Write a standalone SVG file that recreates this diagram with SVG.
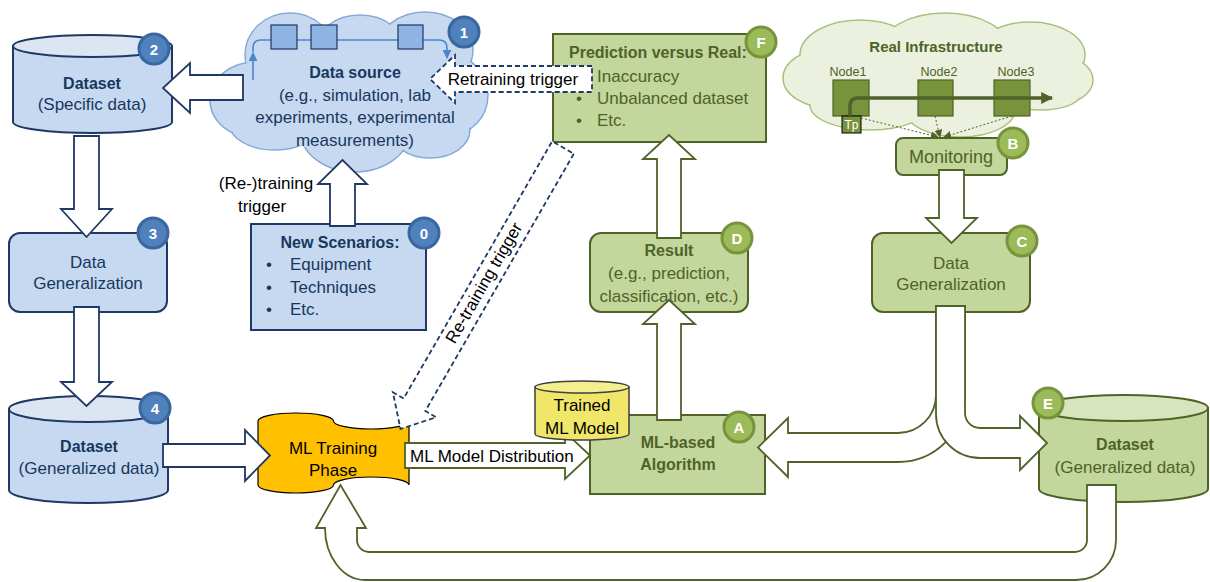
<svg xmlns="http://www.w3.org/2000/svg" width="1210" height="582" viewBox="0 0 1210 582">
<defs>
<style>
text{font-family:'Liberation Sans',Arial,sans-serif;font-size:17px;text-anchor:middle;dominant-baseline:central}
.b{font-weight:bold;font-size:16px}
.s{text-anchor:start}
.tb{fill:#17375E}
.tg{fill:#4F6228}
.bf{fill:#C6D9F1;stroke:#1F3864;stroke-width:2}
.bt{fill:#DCE6F2;stroke:#1F3864;stroke-width:2}
.gf{fill:#C3D69B;stroke:#4F6228;stroke-width:2}
.gt{fill:#D7E4BD;stroke:#4F6228;stroke-width:2}
.ba{fill:#fff;stroke:#1F3864;stroke-width:1.8;stroke-linejoin:miter}
.ga{fill:#fff;stroke:#4F6228;stroke-width:1.8}
.da{fill:#fff;stroke:#1F3864;stroke-width:1.8;stroke-dasharray:5,3}
.bb circle{fill:#4F81BD;stroke:#3A679F;stroke-width:3}
.gb circle{fill:#9BBB59;stroke:#77933C;stroke-width:3}
.bb text,.gb text{fill:#fff;font-weight:bold;font-size:15px}
.cb ellipse{fill:#C6D9F1;stroke:#85A9D8;stroke-width:1.5}
.cbf ellipse{fill:#C6D9F1;stroke:none}
.cg ellipse{fill:#EBF1DE;stroke:#A6C27A;stroke-width:1.5}
.cgf ellipse{fill:#EBF1DE;stroke:none}
.sq{fill:#8DB4E2;stroke:#1F3864;stroke-width:1.2}
.nd{fill:#77933C;stroke:#4F6228;stroke-width:1.2}
</style>
<marker id="mb" viewBox="0 0 10 10" refX="9" refY="5" markerWidth="9" markerHeight="9" markerUnits="userSpaceOnUse" orient="auto"><path d="M0,0 L10,5 L0,10 z" fill="#4A86D0"/></marker>
<marker id="mg" viewBox="0 0 10 10" refX="9" refY="5" markerWidth="15" markerHeight="12" markerUnits="userSpaceOnUse" orient="auto"><path d="M0,0 L10,5 L0,10 z" fill="#4F6228"/></marker>
<marker id="md" viewBox="0 0 10 10" refX="9" refY="5" markerWidth="8" markerHeight="8" markerUnits="userSpaceOnUse" orient="auto"><path d="M0,0 L10,5 L0,10 z" fill="#4F6228"/></marker>
</defs>
<rect width="1210" height="582" fill="#fff"/>

<g id="node-datasource">
<g class="cb">
<ellipse cx="255" cy="100" rx="45" ry="38"/><ellipse cx="290" cy="55" rx="45" ry="42"/><ellipse cx="360" cy="50" rx="45" ry="35"/><ellipse cx="425" cy="50" rx="48" ry="38"/><ellipse cx="450" cy="95" rx="38" ry="40"/><ellipse cx="430" cy="130" rx="40" ry="28"/><ellipse cx="355" cy="130" rx="55" ry="42"/><ellipse cx="275" cy="125" rx="45" ry="25"/>
</g>
<g class="cbf">
<ellipse cx="255" cy="100" rx="44" ry="37"/><ellipse cx="290" cy="55" rx="44" ry="41"/><ellipse cx="360" cy="50" rx="44" ry="34"/><ellipse cx="425" cy="50" rx="47" ry="37"/><ellipse cx="450" cy="95" rx="37" ry="39"/><ellipse cx="430" cy="130" rx="39" ry="27"/><ellipse cx="355" cy="130" rx="54" ry="41"/><ellipse cx="275" cy="125" rx="44" ry="24"/><ellipse cx="350" cy="92" rx="110" ry="60"/>
</g>
<path d="M253,80 L253,53" fill="none" stroke="#4A86D0" stroke-width="1.6" marker-end="url(#mb)"/>
<path d="M253,52 L253,48 Q253,40 261,40 L439,40 Q447,40 447,48 L447,58" fill="none" stroke="#4A86D0" stroke-width="1.6" marker-end="url(#mb)"/>
<rect class="sq" x="271" y="25" width="26" height="24"/>
<rect class="sq" x="311" y="25" width="26" height="24"/>
<rect class="sq" x="398" y="25" width="25" height="24"/>
<text class="b tb" x="355" y="72">Data source</text>
<text class="tb" x="355" y="95">(e.g., simulation, lab</text>
<text class="tb" x="355" y="117">experiments, experimental</text>
<text class="tb" x="355" y="140">measurements)</text>
<g class="bb"><circle cx="464" cy="32" r="15"/><text x="464" y="32">1</text></g>
</g>

<g id="node-dataset2">
<path class="bf" d="M13,46 L13,122 A79.5,11 0 0 0 172,122 L172,46 Z"/>
<ellipse class="bt" cx="92.5" cy="46" rx="79.5" ry="11"/>
<text class="b tb" x="92" y="83">Dataset</text>
<text class="tb" x="92" y="104">(Specific data)</text>
<g class="bb"><circle cx="154" cy="49" r="15"/><text x="154" y="49">2</text></g>
</g>

<g id="node-datagen3">
<rect class="bf" x="9" y="233" width="158" height="79" rx="11"/>
<text class="tb" x="88" y="262">Data</text>
<text class="tb" x="88" y="283">Generalization</text>
<g class="bb"><circle cx="153" cy="233" r="15"/><text x="153" y="233">3</text></g>
</g>

<g id="node-dataset4">
<path class="bf" d="M9,409 L9,490 A79.5,13 0 0 0 168,490 L168,409 Z"/>
<ellipse class="bt" cx="88.5" cy="409" rx="79.5" ry="13"/>
<text class="b tb" x="89" y="446">Dataset</text>
<text class="tb" x="89" y="468">(Generalized data)</text>
<g class="bb"><circle cx="155" cy="408" r="15"/><text x="155" y="408">4</text></g>
</g>

<g id="node-newscenarios">
<rect class="bf" x="251" y="224" width="175" height="106"/>
<text class="b tb" x="340" y="242">New Scenarios:</text>
<text class="tb" x="269" y="264">•</text><text class="tb s" x="290" y="264">Equipment</text>
<text class="tb" x="269" y="287">•</text><text class="tb s" x="290" y="287">Techniques</text>
<text class="tb" x="269" y="309">•</text><text class="tb s" x="290" y="309">Etc.</text>
<g class="bb"><circle cx="424" cy="233" r="15"/><text x="424" y="233">0</text></g>
</g>

<g id="node-mltraining">
<path d="M258,421 A37.75,8 0 0 1 333.5,421 A37.75,8 0 0 0 409,421 L409,485 A37.75,8 0 0 0 333.5,485 A37.75,8 0 0 1 258,485 Z" fill="#FFC000" stroke="#000" stroke-width="1.2"/>
<text x="333" y="448">ML Training</text>
<text x="333" y="470">Phase</text>
</g>

<g id="node-prediction">
<rect class="gf" x="553" y="34" width="213" height="108"/>
<text class="b tg s" x="569" y="52">Prediction versus Real:</text>
<text class="tg" x="579" y="76">•</text><text class="tg s" x="597" y="76">Inaccuracy</text>
<text class="tg" x="579" y="98">•</text><text class="tg s" x="597" y="98">Unbalanced dataset</text>
<text class="tg" x="579" y="120">•</text><text class="tg s" x="597" y="120">Etc.</text>
<g class="gb"><circle cx="761" cy="42" r="15"/><text x="761" y="42">F</text></g>
</g>

<g id="node-realinfra">
<g class="cg">
<ellipse cx="830" cy="78" rx="47" ry="30"/><ellipse cx="860" cy="55" rx="60" ry="35"/><ellipse cx="945" cy="50" rx="65" ry="37"/><ellipse cx="1030" cy="55" rx="55" ry="33"/><ellipse cx="1055" cy="80" rx="38" ry="25"/><ellipse cx="1040" cy="95" rx="40" ry="15"/><ellipse cx="960" cy="110" rx="55" ry="27"/><ellipse cx="870" cy="105" rx="60" ry="25"/>
</g>
<g class="cgf">
<ellipse cx="830" cy="78" rx="46" ry="29"/><ellipse cx="860" cy="55" rx="59" ry="34"/><ellipse cx="945" cy="50" rx="64" ry="36"/><ellipse cx="1030" cy="55" rx="54" ry="32"/><ellipse cx="1055" cy="80" rx="37" ry="24"/><ellipse cx="1040" cy="95" rx="39" ry="14"/><ellipse cx="960" cy="110" rx="54" ry="26"/><ellipse cx="870" cy="105" rx="59" ry="24"/><ellipse cx="940" cy="80" rx="130" ry="40"/>
</g>
<text class="b tg" x="936" y="46" style="font-size:15px">Real Infrastructure</text>
<text class="tg" x="848" y="72" style="font-size:12.5px">Node1</text>
<text class="tg" x="939" y="72" style="font-size:12.5px">Node2</text>
<text class="tg" x="1016" y="72" style="font-size:12.5px">Node3</text>
<rect class="nd" x="833" y="80" width="36" height="36"/>
<rect class="nd" x="918" y="80" width="35" height="36"/>
<rect class="nd" x="994" y="80" width="36" height="36"/>
<rect x="842" y="116" width="19" height="17" fill="#77933C" stroke="#000" stroke-width="1"/>
<text x="851.5" y="125" fill="#fff" style="font-size:12px">Tp</text>
<path d="M850,116 L850,106 Q850,98 858,98 L1052,98" fill="none" stroke="#4F6228" stroke-width="3.5" marker-end="url(#mg)"/>
<g fill="none" stroke="#4F6228" stroke-width="1" stroke-dasharray="2,2">
<path d="M861,118 L938,137" marker-end="url(#md)"/>
<path d="M935,116 L940,137" marker-end="url(#md)"/>
<path d="M1012,116 L944,137" marker-end="url(#md)"/>
</g>
</g>

<g id="node-monitoring">
<rect class="gf" x="896" y="138" width="111" height="37" rx="7"/>
<text class="tg" x="951" y="157" style="font-size:18px">Monitoring</text>
<g class="gb"><circle cx="1013" cy="143" r="15"/><text x="1013" y="143">B</text></g>
</g>

<g id="node-result">
<rect class="gf" x="590" y="233" width="158" height="79" rx="11"/>
<text class="b tg" x="669" y="250">Result</text>
<text class="tg" x="669" y="273">(e.g., prediction,</text>
<text class="tg" x="669" y="296">classification, etc.)</text>
<g class="gb"><circle cx="737" cy="238" r="15"/><text x="737" y="238">D</text></g>
</g>

<g id="node-datagenC">
<rect class="gf" x="872" y="233" width="158" height="79" rx="11"/>
<text class="tg" x="951" y="263">Data</text>
<text class="tg" x="951" y="284">Generalization</text>
<g class="gb"><circle cx="1022" cy="241" r="15"/><text x="1022" y="241">C</text></g>
</g>

<g id="node-mlalgorithm">
<rect class="gf" x="590" y="415" width="175" height="79"/>
<text class="b tg" x="678" y="442">ML-based</text>
<text class="b tg" x="678" y="464">Algorithm</text>
<g class="gb"><circle cx="739" cy="427" r="15"/><text x="739" y="427">A</text></g>
</g>

<g id="node-datasetE">
<path class="gf" d="M1039,408 L1039,489 A84.5,13 0 0 0 1208,489 L1208,408 Z"/>
<ellipse class="gt" cx="1123.5" cy="408" rx="84.5" ry="13"/>
<text class="b tg" x="1125" y="444">Dataset</text>
<text class="tg" x="1125" y="467">(Generalized data)</text>
</g>

<g id="connectors">
<path class="ba" d="M243,75 L190,75 L190,63 L163,88 L190,113 L190,100 L243,100 Z"/>
<path class="ba" d="M74,136 L99,136 L99,209 L112,209 L86.5,237 L61,209 L74,209 Z"/>
<path class="ba" d="M74,307 L99,307 L99,382 L112,382 L86.5,406 L61,382 L74,382 Z"/>
<path class="ba" d="M163,444 L245,444 L245,430 L270,455.5 L245,481 L245,467 L163,467 Z"/>
<path class="ba" d="M330,226 L330,184 L318,184 L342.5,160 L367,184 L355,184 L355,226 Z"/>
<text x="266" y="183">(Re-)training</text>
<text x="262" y="206">trigger</text>
<path class="da" d="M592,66 L455,66 L455,55 L430,79 L455,103 L455,92 L592,92 Z"/>
<text x="513" y="79">Retraining trigger</text>
<path class="da" transform="translate(563,147.5) rotate(120)" d="M0,-12.5 L297,-12.5 L297,-25 L325,0 L297,25 L297,12.5 L0,12.5 Z"/>
<text transform="translate(484,283) rotate(-60)" x="0" y="0">Re-training trigger</text>
<path class="ga" d="M657,238 L657,159 L643,159 L669,135 L695,159 L681,159 L681,238 Z"/>
<path class="ga" d="M657,420 L657,324 L643,324 L669,300 L695,324 L681,324 L681,420 Z"/>
<path class="ga" d="M939,170 L964,170 L964,218 L977,218 L951.5,243 L926,218 L939,218 Z"/>
<path class="ga" d="M405,443 L565,443 L565,432 L590,455.5 L565,479 L565,468 L405,468 Z"/>
<text class="s" x="410" y="456">ML Model Distribution</text>
<path class="ga" d="M936,306 L965,306 L965,395 A67,67 0 0 1 898,462 L788,462 L788,477 L758,447.5 L788,418 L788,433 L898,433 A38,38 0 0 0 936,395 Z"/>
<path class="ga" d="M936,306 L965,306 L965,413 A15,15 0 0 0 980,428 L1020,428 L1020,416 L1047,443 L1020,470 L1020,458 L980,458 A44,44 0 0 1 936,414 Z"/>
<path class="ga" d="M1087,485 L1116,485 L1116,540 A40,40 0 0 1 1076,580 L365,580 A40,52 0 0 1 325,528 L316,528 L340.5,485 L366,528 L357,528 L357,540 A12,12 0 0 0 369,552 L1075,552 A12,12 0 0 0 1087,540 Z"/>
</g>

<g id="node-badgeE" class="gb"><circle cx="1048" cy="403" r="15"/><text x="1048" y="403">E</text></g>

<g id="node-trainedmodel">
<path d="M535,387 L535,434 A47,6 0 0 0 629,434 L629,387 Z" fill="#F0E66A" stroke="#3F3F3F" stroke-width="1.5"/>
<ellipse cx="582" cy="387" rx="47" ry="6" fill="#F5EE8E" stroke="#3F3F3F" stroke-width="1.5"/>
<text x="582" y="405">Trained</text>
<text x="582" y="428">ML Model</text>
</g>
</svg>
